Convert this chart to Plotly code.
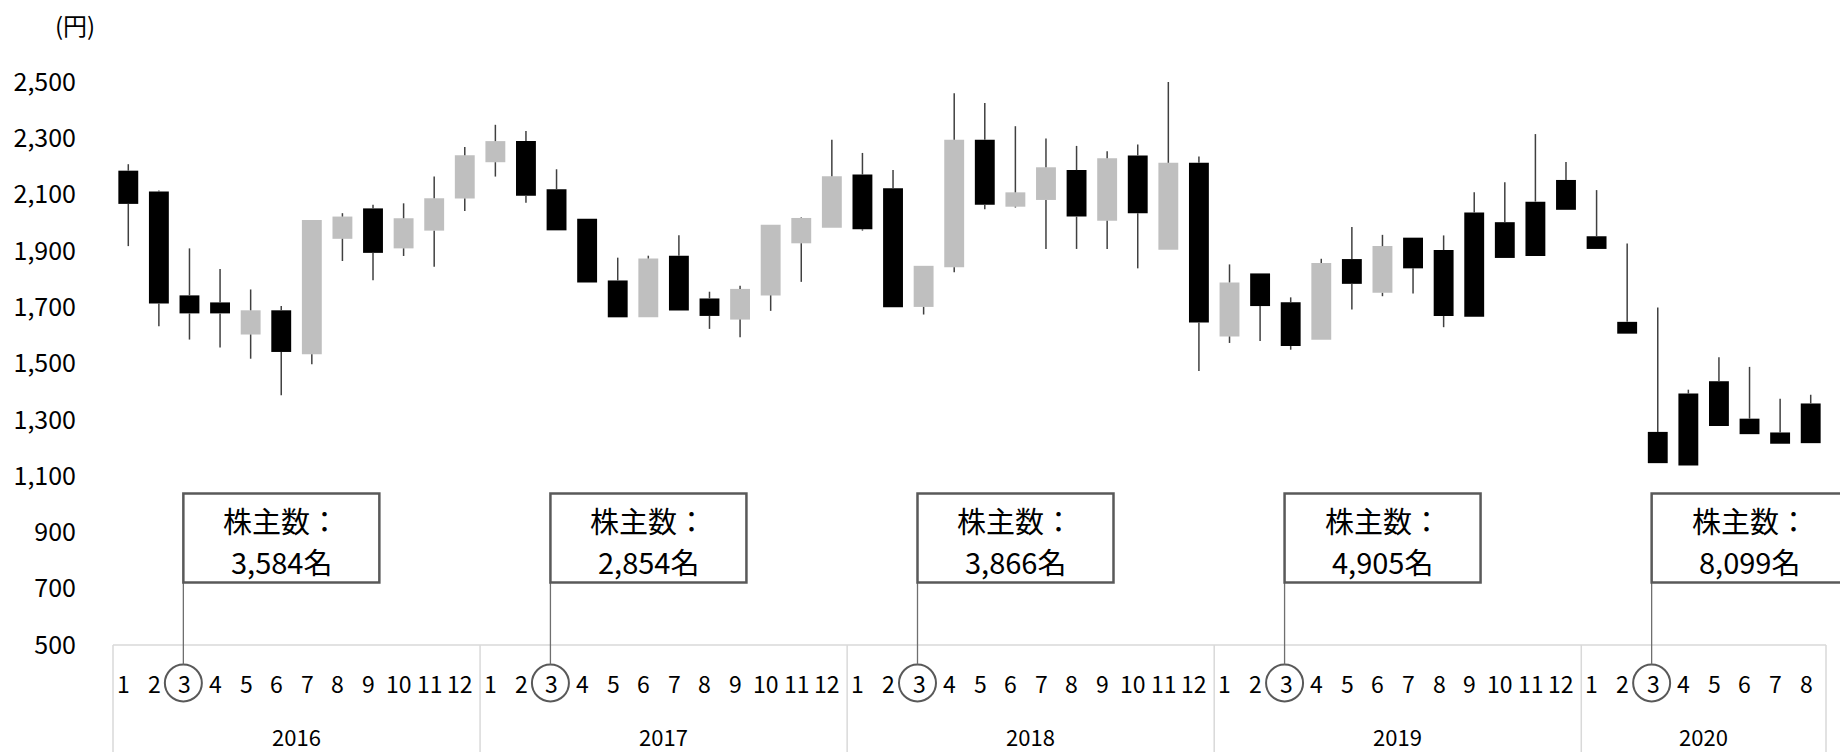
import plotly.graph_objects as go

# monthly candles, Jan 2016 - Aug 2020
years = [2016, 2017, 2018, 2019, 2020]
months_per_year = [12, 12, 12, 12, 8]

open_ = [2185, 2111, 1742, 1717, 1603, 1689, 1533, 1943, 2051, 1909, 1972, 2086,
         2215, 2290, 2119, 2014, 1795, 1664, 1883, 1731, 1656, 1742, 1927, 1982,
         2171, 2123, 1701, 1842, 2295, 2057, 2081, 2187, 2007, 2239, 1904, 2213,
         1596, 1820, 1718, 1584, 1871, 1751, 1947, 1903, 2036, 2002, 2075, 2152,
         1952, 1648, 1257, 1393, 1437, 1304, 1255, 1358]
high = [2208, 2115, 1909, 1836, 1763, 1704, 2010, 2034, 2064, 2069, 2164, 2269,
        2348, 2326, 2190, 2014, 1876, 1883, 1956, 1755, 1776, 1993, 2019, 2295,
        2248, 2187, 1847, 2460, 2425, 2343, 2299, 2273, 2254, 2278, 2500, 2235,
        1852, 1820, 1735, 1872, 1985, 1957, 1947, 1955, 2108, 2144, 2315, 2216,
        2116, 1926, 1699, 1407, 1522, 1488, 1375, 1389]
low = [1917, 1632, 1585, 1557, 1517, 1387, 1497, 1864, 1796, 1882, 1844, 2042,
       2164, 2071, 1973, 1788, 1664, 1664, 1688, 1623, 1593, 1687, 1790, 1982,
       1972, 1700, 1674, 1824, 2048, 2054, 1907, 1907, 1907, 1838, 1904, 1473,
       1573, 1580, 1549, 1584, 1692, 1739, 1749, 1629, 1666, 1875, 1882, 2046,
       1907, 1606, 1146, 1138, 1278, 1249, 1215, 1217]
close = [2067, 1713, 1678, 1678, 1689, 1541, 2010, 2022, 1893, 2016, 2087, 2240,
         2290, 2096, 1973, 1788, 1664, 1873, 1688, 1669, 1765, 1993, 2017, 2165,
         1977, 1700, 1847, 2295, 2064, 2108, 2197, 2022, 2229, 2034, 2213, 1646,
         1788, 1704, 1562, 1857, 1783, 1917, 1838, 1669, 1666, 1875, 1882, 2046,
         1907, 1606, 1146, 1138, 1278, 1249, 1215, 1217]

holders = ["3,584", "2,854", "3,866", "4,905", "8,099"]
holder_month = 3

y_ticks = list(range(500, 2501, 200))

months = [m for n in months_per_year for m in range(1, n + 1)]
n = len(months)
x = list(range(n))

BLACK = "#000000"
GRAY = "#bfbfbf"
EDGE = "#595959"
AXIS = "#d9d9d9"
FONT = "Noto Sans CJK JP"

# plot area in pixels (for placing the helper graphics)
L, R, T, B = 113, 14, 82, 107
W, H = 1840, 752
plot_w = W - L - R
plot_h = H - T - B


def px(i):
    return (i + 0.5) / n


def py(pix):
    return (H - B - pix) / plot_h


def label(text, x, y, size):
    return dict(text=text, xref="paper", yref="paper", x=x, y=y,
                xanchor="center", yanchor="middle", showarrow=False,
                align="center", font=dict(size=size, color="black", family=FONT))


fig = go.Figure()

# wicks (upper and lower parts so they don't cross the gray bodies)
wx, wy = [], []
for i in x:
    top = max(open_[i], close[i])
    bot = min(open_[i], close[i])
    wx += [i, i, None, i, i, None]
    wy += [top, high[i], None, low[i], bot, None]
fig.add_trace(go.Scatter(x=wx, y=wy, mode="lines",
                         line=dict(color="#404040", width=1.5),
                         hoverinfo="skip"))

base = [min(o, c) for o, c in zip(open_, close)]
height = [max(abs(c - o), 4) for o, c in zip(open_, close)]
colors = [BLACK if c < o else GRAY for o, c in zip(open_, close)]
fig.add_trace(go.Bar(x=x, y=height, base=base, width=0.65,
                     marker=dict(color=colors, line=dict(width=0))))

shapes = []
annotations = []

# category axis box
shapes.append(dict(type="line", xref="paper", yref="paper", x0=0, x1=1, y0=0, y1=0,
                   line=dict(color=AXIS, width=1.5)))
start = 0
seps = [0]
for k in months_per_year:
    start += k
    seps.append(start)
for s in seps:
    shapes.append(dict(type="line", xref="paper", yref="paper",
                       x0=s / n, x1=s / n, y0=0, y1=py(H),
                       line=dict(color=AXIS, width=1.5)))

# month / year labels
for i, m in enumerate(months):
    annotations.append(label(str(m), px(i - 0.15), py(683), 23))
for yi, yr in enumerate(years):
    mid = (seps[yi] + seps[yi + 1]) / 2 / n
    annotations.append(label(str(yr), mid, py(736), 22))

# shareholder call-outs at each March
rx = 18.5 / plot_w
ry = 18.5 / plot_h
box_w = 196 / plot_w
for yi, h in enumerate(holders):
    i = seps[yi] + holder_month - 1
    cx = px(i - 0.2)
    shapes.append(dict(type="circle", xref="paper", yref="paper",
                       x0=cx - rx, x1=cx + rx, y0=py(683) - ry, y1=py(683) + ry,
                       line=dict(color=EDGE, width=2)))
    shapes.append(dict(type="line", xref="paper", yref="paper",
                       x0=cx, x1=cx, y0=py(582.5), y1=py(683) + ry,
                       line=dict(color="#6f6f6f", width=1.3)))
    shapes.append(dict(type="rect", xref="paper", yref="paper",
                       x0=cx, x1=cx + box_w, y0=py(582.5), y1=py(493.5),
                       line=dict(color=EDGE, width=2.5), fillcolor="white"))
    annotations.append(label("株主数：", cx + box_w / 2, py(519.5), 29))
    annotations.append(label(h + "名", cx + box_w / 2, py(561), 29))

annotations.append(label("(円)", (75 - L) / plot_w, py(24), 24))

fig.update_layout(
    width=W, height=H,
    margin=dict(l=L, r=R, t=T, b=B),
    paper_bgcolor="white", plot_bgcolor="white",
    showlegend=False,
    shapes=shapes,
    annotations=annotations,
    xaxis=dict(range=[-0.5, n - 0.5], showticklabels=False, showgrid=False,
               zeroline=False, showline=False),
    yaxis=dict(range=[500, 2500], tickvals=y_ticks, tickformat=",d",
               showgrid=False, zeroline=False, showline=False,
               ticklabelstandoff=36,
               tickfont=dict(size=25, color="black", family=FONT)),
)

fig.write_html("out.html", config={"displayModeBar": False},
               post_script="document.body.style.margin='0';")
